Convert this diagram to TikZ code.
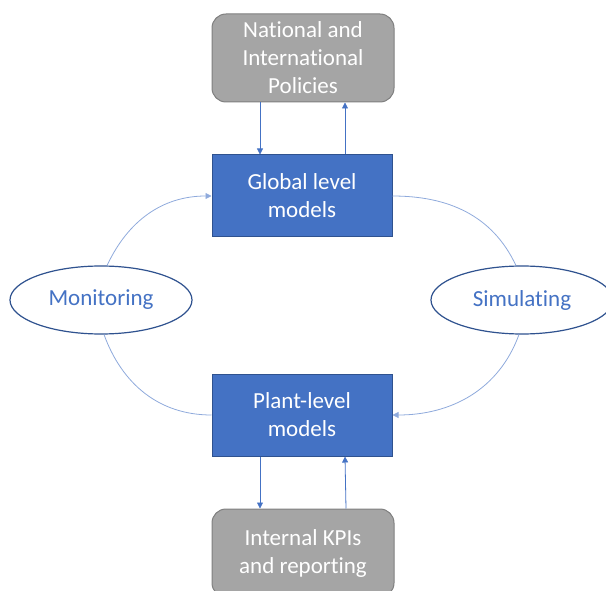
\documentclass[tikz,border=0pt]{standalone}
\usepackage{fontspec}
\setmainfont[Ligatures={NoCommon,NoContextual}]{Carlito}
\usetikzlibrary{arrows.meta,shapes.geometric}
\definecolor{boxblue}{HTML}{4472C4}
\definecolor{boxblueedge}{HTML}{2F528F}
\definecolor{boxgray}{HTML}{A5A5A5}
\definecolor{boxgrayedge}{HTML}{7F7F7F}
\definecolor{curveblue}{HTML}{8FAADC}
\tikzset{
  txt/.style={font=\fontsize{23}{28}\selectfont, align=center, inner sep=0pt},
  modelbox/.style={txt, draw=boxblueedge, line width=1pt, fill=boxblue, text=white,
    minimum width=180pt, minimum height=82pt},
  sourcebox/.style={txt, draw=boxgrayedge, line width=1pt, fill=boxgray, text=white,
    rounded corners=14pt, minimum width=182pt, minimum height=88pt},
  phase/.style={txt, ellipse, draw=boxblueedge, line width=1.2pt, fill=white, text=boxblue,
    minimum width=182pt, minimum height=68pt},
  link/.style={draw=boxblue, line width=0.8pt},
  arc/.style={draw=curveblue, line width=0.8pt},
  tip/.style={-{Triangle[length=6pt,width=6pt]}}
}
\begin{document}
\begin{tikzpicture}[x=1pt,y=-1pt]
  \useasboundingbox (0,0) rectangle (606,591);

  % boxes
  \node[sourcebox] (pol)  at (303,58)  {National and\\International\\Policies};
  \node[modelbox]  (glob) at (302,196) {Global level\\models};
  \node[modelbox]  (plant) at (302,415) {Plant-level\\models};
  \node[sourcebox] (kpi)  at (303,553) {Internal KPIs\\and reporting};

  % phases of the loop
  \node[phase] (mon) at (101,300) {Monitoring};
  \node[phase] (sim) at (522,300) {Simulating};

  % vertical exchanges
  \draw[link,tip] ([xshift=-43pt]pol.south) -- ([xshift=-42pt]glob.north);
  \draw[link,tip] ([xshift=43pt]glob.north) -- ([xshift=42pt]pol.south);
  \draw[link,tip] ([xshift=-42pt]plant.south) -- ([xshift=-43pt]kpi.north);
  \draw[link,tip] ([xshift=43pt]kpi.north) -- ([xshift=43pt]plant.south);

  % loop arcs
  \draw[arc,tip] (mon.80) to[out=65,in=180] (glob.west);
  \draw[arc] (mon.-85) to[out=-70,in=180] (plant.west);
  \draw[arc] (glob.east) to[out=0,in=115] (sim.100);
  \draw[arc,tip] (sim.-95) to[out=-110,in=0] (plant.east);
\end{tikzpicture}
\end{document}
